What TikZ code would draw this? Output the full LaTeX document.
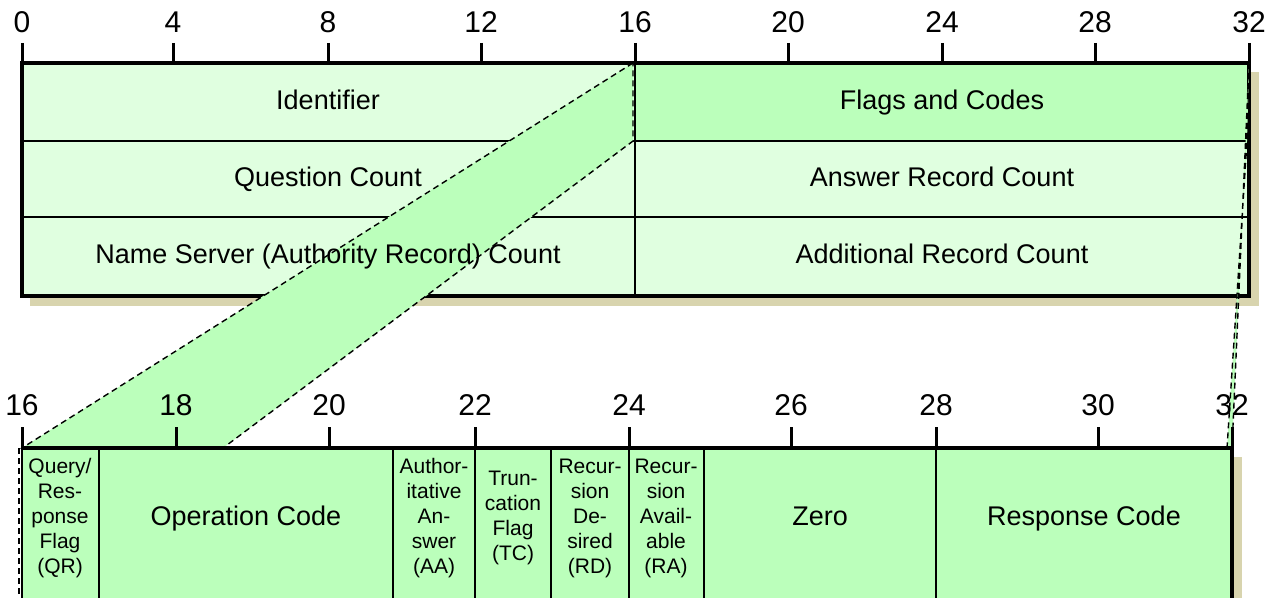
\documentclass[tikz,border=0pt]{standalone}
\usepackage{fontspec}
\setmainfont{Liberation Sans}
\usetikzlibrary{positioning}
\definecolor{pale}{RGB}{224,255,224}
\definecolor{mint}{RGB}{187,255,187}
\definecolor{khaki}{RGB}{216,212,174}

\begin{document}
\begin{tikzpicture}[x=0.5pt, y=-0.5pt,
      every node/.style={font=\fontsize{13.5}{16}\selectfont, inner sep=0pt},
      lbl/.style={text height=0.72em, text depth=0pt},
      bitno/.style={font=\fontsize{15}{18}\selectfont, text height=0.72em, text depth=0pt},
      flag/.style={font=\fontsize{10.5}{12.5}\selectfont, align=center},
      frame/.style={line width=2pt},
      rule/.style={line width=0.9pt},
      tick/.style={line width=1.5pt},
      band/.style={fill=mint, draw=black, dash pattern=on 3pt off 2pt, line width=0.7pt}
    ]
    \clip (0,0) rectangle (1277,598);

    % header: 32-bit word
    \fill[khaki] (30,72) rectangle (1259,306);
    \fill[pale] (22,63) rectangle (1249,296);
    \fill[mint] (635,63) rectangle (1249,141);
    \draw[rule] (22,141) -- (1249,141);
    \draw[rule] (22,217) -- (1249,217);
    \draw[rule] (635,63) -- (635,296);
    \draw[frame] (22,63) rectangle (1249,296);
    \foreach \x/\n in {22/0, 173/4, 328/8, 481/12, 635/16, 788/20, 942/24, 1095/28, 1249/32} {
      \draw[tick] (\x,43) -- (\x,63);
      \node[bitno] (top\n) at (\x,25) {\n};
    }

    % zoom band from Flags and Codes
    \filldraw[band] (633,63) -- (22,448) -- (223,448) -- (633,141) -- cycle;
    \filldraw[band] (1249,63) -- (1232,448) -- (1227,448) -- (1247,141) -- cycle;

    \node[lbl] (ident)   at (328,102) {Identifier};
    \node[lbl] (flags)   at (942,102) {Flags and Codes};
    \node[lbl] (qcount)  at (328,179) {Question Count};
    \node[lbl] (ancount) at (942,179) {Answer Record Count};
    \node[lbl] (nscount) at (328,256) {Name Server (Authority Record) Count};
    \node[lbl] (arcount) at (942,256) {Additional Record Count};

    % flags and codes, bit by bit
    \fill[khaki] (31,457) rectangle (1242,620);
    \fill[mint] (22,448) rectangle (1232,620);
    \foreach \x in {99, 393, 475, 551, 629, 704, 936}
      \draw[rule] (\x,448) -- (\x,620);
    \draw[rule] (22,448) -- (22,620);
    \draw[dash pattern=on 3pt off 2pt, line width=0.7pt] (19,448) -- (19,620);
    \draw[frame] (22,448) -- (1232,448) -- (1232,620);
    \foreach \x/\n in {22/16, 176/18, 329/20, 475/22, 629/24, 791/26, 936/28, 1098/30, 1232/32} {
      \draw[tick] (\x,427) -- (\x,448);
      \node[bitno] (bot\n) at (\x,408) {\n};
    }

    \node[flag] (qr)    at (60,518)   {Query/\\Res-\\ponse\\Flag\\(QR)};
    \node[lbl]  (opcode) at (246,518) {Operation Code};
    \node[flag] (aa)    at (434,518)  {Author-\\itative\\An-\\swer\\(AA)};
    \node[flag] (tc)    at (513,518)  {Trun-\\cation\\Flag\\(TC)};
    \node[flag] (rd)    at (590,518)  {Recur-\\sion\\De-\\sired\\(RD)};
    \node[flag] (ra)    at (666,518)  {Recur-\\sion\\Avail-\\able\\(RA)};
    \node[lbl]  (zero)  at (820,518)  {Zero};
    \node[lbl]  (rcode) at (1084,518) {Response Code};
  \end{tikzpicture}
\end{document}
